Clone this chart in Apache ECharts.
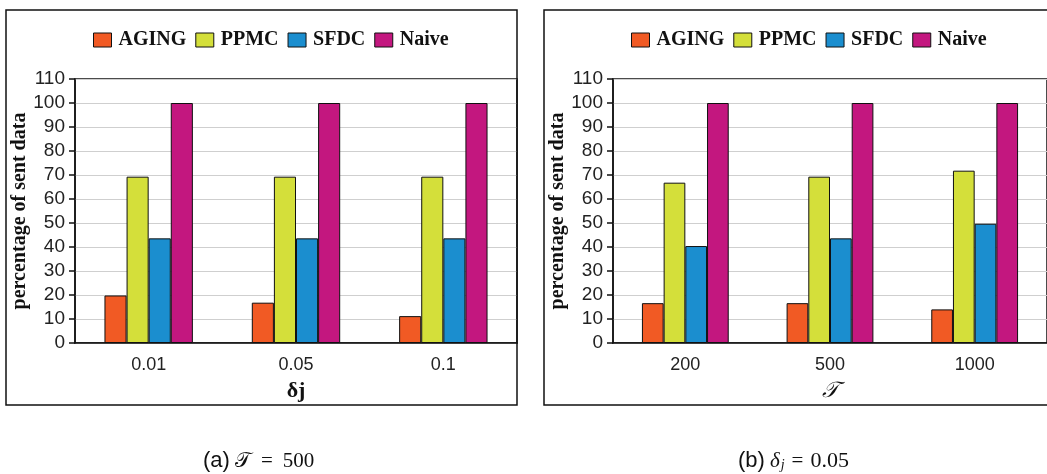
<!DOCTYPE html>
<html>
<head>
<meta charset="utf-8">
<script src="https://cdn.jsdelivr.net/npm/echarts@6/dist/echarts.min.js"></script>
<style>
  html, body { margin: 0; padding: 0; background: #fff; }
  #chart { width: 1047px; height: 474px; }
</style>
</head>
<body>
<div id="chart"></div>
<script>
// panel (a): vary delta_j, T = 500
const deltaCats = ['0.01', '0.05', '0.1']
const agingA = [19.8, 16.8, 11.2]
const ppmcA = [69.3, 69.3, 69.3]
const sfdcA = [43.6, 43.6, 43.6]
const naiveA = [100, 100, 100]

// panel (b): vary T, delta_j = 0.05
const tCats = ['200', '500', '1000']
const agingB = [16.6, 16.6, 14.0]
const ppmcB = [66.8, 69.3, 71.8]
const sfdcB = [40.4, 43.6, 49.7]
const naiveB = [100, 100, 100]

const names = ['AGING', 'PPMC', 'SFDC', 'Naive']
const colors = ['#f15a24', '#d4df3a', '#1b8ecf', '#c3177f']

const serif = '"Liberation Serif", "DejaVu Serif", serif'
const sans = '"Liberation Sans", Arial, sans-serif'

const chart = echarts.init(document.getElementById('chart'))

function makeSeries (gridIdx, values) {
  return values.map((d, i) => ({
    name: names[i],
    type: 'bar',
    xAxisIndex: gridIdx,
    yAxisIndex: gridIdx,
    barGap: '0%',
    barCategoryGap: '40%',
    itemStyle: { color: colors[i], borderColor: '#111', borderWidth: 1 },
    emphasis: { disabled: true },
    data: d
  }))
}

function xAxis (gridIdx, cats, name, nameStyle) {
  return {
    type: 'category',
    gridIndex: gridIdx,
    data: cats,
    name: name,
    nameLocation: 'middle',
    nameGap: 37,
    nameTextStyle: nameStyle,
    axisLine: { lineStyle: { color: '#111', width: 1.5 } },
    axisTick: { alignWithLabel: true, length: 6, lineStyle: { color: '#111', width: 1.5 } },
    axisLabel: { color: '#222', fontFamily: sans, fontSize: 18, margin: 13 }
  }
}

function yAxis (gridIdx) {
  return {
    type: 'value',
    gridIndex: gridIdx,
    min: 0,
    max: 110,
    interval: 10,
    name: 'percentage of sent data',
    nameLocation: 'middle',
    nameGap: 43,
    nameTextStyle: { fontFamily: serif, fontWeight: 'bold', fontSize: 20, color: '#111' },
    axisLine: { show: true, lineStyle: { color: '#111', width: 1.5 } },
    axisTick: { show: true, length: 6, lineStyle: { color: '#111', width: 1.5 } },
    axisLabel: { color: '#222', fontFamily: sans, fontSize: 19, margin: 10 },
    splitLine: { lineStyle: { color: '#cfcfcf', width: 1.2 } }
  }
}

function legend (left) {
  return {
    left: left,
    top: 25,
    itemWidth: 18,
    itemHeight: 14,
    itemGap: 9,
    icon: 'rect',
    data: names,
    selectedMode: false,
    itemStyle: { borderColor: '#111', borderWidth: 1 },
    textStyle: { fontFamily: serif, fontWeight: 'bold', fontSize: 20, color: '#111', padding: [0, 0, 0, 2] }
  }
}

chart.setOption({
  animation: false,
  legend: [legend(88), legend(626)],
  grid: [
    { left: 75, top: 79, width: 442, height: 264, show: true, borderColor: '#111', borderWidth: 1.5 },
    { left: 613, top: 79, width: 440, height: 264, show: true, borderColor: '#111', borderWidth: 1.5 }
  ],
  xAxis: [
    xAxis(0, deltaCats, 'δj', { fontFamily: serif, fontWeight: 'bold', fontSize: 22, color: '#111' }),
    xAxis(1, tCats, '𝒯', { fontFamily: serif, fontStyle: 'italic', fontSize: 22, color: '#111' })
  ],
  yAxis: [yAxis(0), yAxis(1)],
  series: makeSeries(0, [agingA, ppmcA, sfdcA, naiveA])
    .concat(makeSeries(1, [agingB, ppmcB, sfdcB, naiveB])),
  graphic: [
    { type: 'rect', shape: { x: 6, y: 10, width: 511, height: 395 }, style: { fill: 'none', stroke: '#111', lineWidth: 1.5 }, z: 100 },
    { type: 'rect', shape: { x: 544, y: 10, width: 520, height: 395 }, style: { fill: 'none', stroke: '#111', lineWidth: 1.5 }, z: 100 },
    {
      type: 'text', left: 203, top: 450,
      style: {
        text: '{s|(a)}{m|𝒯}{e|=}{m|500}',
        rich: {
          s: { fontFamily: sans, fontSize: 22, fill: '#111', padding: [0, 5, 0, 0] },
          m: { fontFamily: serif, fontSize: 21, fill: '#111' },
          e: { fontFamily: serif, fontSize: 21, fill: '#111', padding: [0, 10, 0, 10] }
        }
      }
    },
    {
      type: 'text', left: 738, top: 450,
      style: {
        text: '{s|(b)}{i|δ}{sub|j}{e|=}{m|0.05}',
        rich: {
          s: { fontFamily: sans, fontSize: 22, fill: '#111', padding: [0, 5, 0, 0] },
          i: { fontFamily: serif, fontStyle: 'italic', fontSize: 21, fill: '#111' },
          sub: { fontFamily: serif, fontStyle: 'italic', fontSize: 14, fill: '#111', verticalAlign: 'bottom', padding: [9, 0, 0, 1] },
          e: { fontFamily: serif, fontSize: 21, fill: '#111', padding: [0, 7, 0, 7] },
          m: { fontFamily: serif, fontSize: 22, fill: '#111' }
        }
      }
    }
  ]
})
</script>
</body>
</html>
